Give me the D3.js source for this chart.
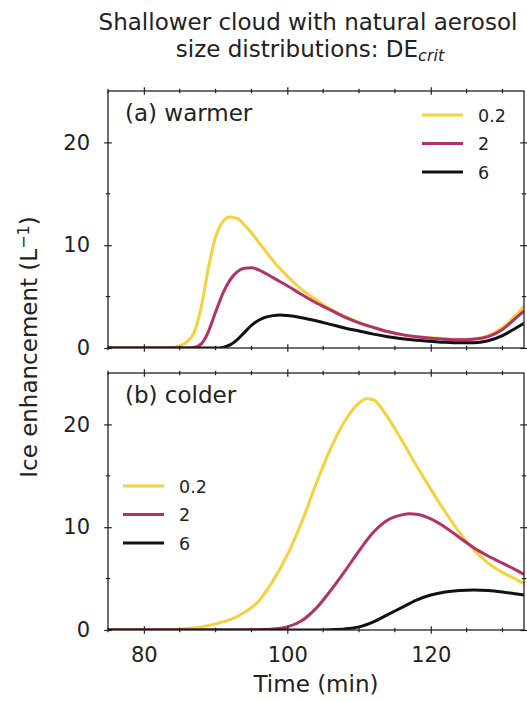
<!DOCTYPE html>
<html>
<head>
<meta charset="utf-8">
<script src="https://cdn.jsdelivr.net/npm/d3@7"></script>
<style>
  body { margin: 0; background: #fff; }
  svg text { font-family: "DejaVu Sans", sans-serif; fill: #222; }
  .axis path, .axis line { stroke: #222; }
</style>
</head>
<body>
<div class="chart"></div>
<script>
// DATA ---------------------------------------------------------------

const seriesNames = ['0.2', '2', '6'];
const seriesColors = ['#f5d23c', '#b3316a', '#111111'];

// (a) warmer, time (min) and ice enhancement (L-1)
const warmTime02 = [75, 83, 84, 85, 86, 87, 88, 89, 90, 91, 92, 93, 94, 95, 96, 97, 98, 99, 100, 102, 104, 106, 108, 110, 112, 114, 116, 118, 120, 122, 124, 126, 128, 130, 132, 133];
const warmVal02  = [0, 0, 0.05, 0.2, 0.6, 1.5, 4.0, 7.8, 10.8, 12.3, 12.75, 12.6, 12.0, 11.2, 10.3, 9.4, 8.5, 7.7, 7.0, 5.7, 4.7, 3.8, 3.1, 2.5, 2.0, 1.6, 1.3, 1.1, 1.0, 0.9, 0.85, 0.9, 1.2, 2.0, 3.3, 4.1];
const warmTime2  = [75, 86, 87, 88, 89, 90, 91, 92, 93, 94, 95, 96, 97, 98, 99, 100, 102, 104, 106, 108, 110, 112, 114, 116, 118, 120, 122, 124, 126, 128, 130, 132, 133];
const warmVal2   = [0, 0, 0.05, 0.4, 1.6, 3.5, 5.3, 6.6, 7.4, 7.75, 7.8, 7.6, 7.25, 6.85, 6.45, 6.05, 5.2, 4.4, 3.7, 3.0, 2.45, 2.0, 1.6, 1.3, 1.1, 0.95, 0.85, 0.8, 0.85, 1.1, 1.8, 3.0, 3.6];
const warmTime6  = [75, 90, 91, 92, 93, 94, 95, 96, 97, 98, 99, 100, 102, 104, 106, 108, 110, 112, 114, 116, 118, 120, 122, 124, 126, 128, 130, 132, 133];
const warmVal6   = [0, 0, 0.05, 0.3, 0.8, 1.5, 2.2, 2.7, 3.0, 3.15, 3.2, 3.15, 2.95, 2.65, 2.3, 1.95, 1.65, 1.35, 1.1, 0.9, 0.75, 0.65, 0.55, 0.5, 0.5, 0.7, 1.2, 2.0, 2.4];

// (b) colder
const coldTime02 = [75, 80, 82, 84, 86, 88, 90, 92, 94, 96, 98, 100, 102, 104, 106, 108, 110, 111, 112, 113, 114, 116, 118, 120, 122, 124, 126, 128, 130, 132, 133];
const coldVal02  = [0, 0, 0.02, 0.06, 0.15, 0.3, 0.6, 1.0, 1.7, 2.8, 4.8, 7.3, 10.5, 14.2, 17.6, 20.3, 22.1, 22.5, 22.4, 21.7, 20.7, 18.4, 16.0, 13.7, 11.5, 9.5, 7.8, 6.5, 5.6, 4.9, 4.5];
const coldTime2  = [75, 94, 96, 98, 100, 102, 104, 106, 108, 110, 112, 114, 116, 117, 118, 120, 122, 124, 126, 128, 130, 132, 133];
const coldVal2   = [0, 0, 0.03, 0.1, 0.3, 0.9, 2.1, 3.8, 5.7, 7.7, 9.5, 10.7, 11.2, 11.3, 11.25, 10.8, 10.0, 9.0, 8.0, 7.2, 6.5, 5.8, 5.4];
const coldTime6  = [75, 104, 106, 108, 110, 112, 114, 116, 118, 120, 122, 124, 126, 128, 130, 132, 133];
const coldVal6   = [0, 0, 0.03, 0.1, 0.3, 0.8, 1.5, 2.2, 2.9, 3.4, 3.7, 3.85, 3.9, 3.85, 3.7, 3.5, 3.4];

const xTicks = [80, 100, 120];
const yTicks = [0, 10, 20];

// CHART INIT ---------------------------------------------------------

const W = 527, H = 702;
const left = 108, right = 524;
const panelH = 257;
const panelTops = [91, 373];

const svg = d3.select('.chart')
    .append('svg')
    .attr('width', W)
    .attr('height', H);

const xScale = d3.scaleLinear().domain([75, 133]).range([0, right - left]);
const yScale = d3.scaleLinear().domain([0, 25]).range([panelH, 0]);

const zip = (t, v) => t.map((d, i) => ({t: d, v: v[i]}));

const panels = [
    {label: '(a) warmer', series: [zip(warmTime02, warmVal02), zip(warmTime2, warmVal2), zip(warmTime6, warmVal6)],
     legend: {x: 422 - left, y: 115 - panelTops[0]}, xLabels: false},
    {label: '(b) colder', series: [zip(coldTime02, coldVal02), zip(coldTime2, coldVal2), zip(coldTime6, coldVal6)],
     legend: {x: 123 - left, y: 486 - panelTops[1]}, xLabels: true}
];

const line = d3.line()
    .x(d => xScale(d.t))
    .y(d => yScale(d.v))
    .curve(d3.curveMonotoneX);

// make ticks cross the spine (inout)
function inout(sel, horizontal) {
    sel.selectAll('.tick line').each(function() {
        const isMinor = d3.select(this.parentNode).classed('minor');
        const h = isMinor ? 2.2 : 3.8;
        if (horizontal) d3.select(this).attr('y1', -h).attr('y2', h);
        else d3.select(this).attr('x1', -h).attr('x2', h);
    });
    sel.selectAll('.tick line').attr('stroke-width', 1.2);
}

function drawAxes(g, showX) {
    const minorX = d3.range(75, 134, 5).filter(d => d % 20 !== 0);
    const minorY = [5, 15];
    const defs = [
        {gen: d3.axisBottom(xScale), tr: [0, panelH], h: true, major: xTicks, minor: minorX, labels: showX},
        {gen: d3.axisTop(xScale), tr: [0, 0], h: true, major: xTicks, minor: minorX, labels: false},
        {gen: d3.axisLeft(yScale), tr: [0, 0], h: false, major: yTicks, minor: minorY, labels: true},
        {gen: d3.axisRight(yScale), tr: [right - left, 0], h: false, major: yTicks, minor: minorY, labels: false}
    ];
    defs.forEach(a => {
        const ax = g.append('g').attr('class', 'axis')
            .attr('transform', `translate(${a.tr[0]},${a.tr[1]})`);
        ax.call(a.gen.tickValues(a.major).tickSizeOuter(0).tickSizeInner(4)
            .tickPadding(a.h ? 13 : 14).tickFormat(a.labels ? d3.format('d') : ''));
        ax.select('.domain').remove();
        const mg = ax.append('g');
        a.minor.forEach(v => {
            const s = a.h ? xScale(v) : yScale(v);
            mg.append('g').attr('class', 'tick minor')
                .attr('transform', a.h ? `translate(${s},0)` : `translate(0,${s})`)
                .append('line').attr('stroke', '#222');
        });
        inout(ax, a.h);
        ax.selectAll('text').style('font-size', '21px').attr('fill', '#222');
    });
    g.append('rect')
        .attr('width', right - left)
        .attr('height', panelH)
        .attr('fill', 'none')
        .attr('stroke', '#222')
        .attr('stroke-width', 1.3);
}

// DRAW PANELS --------------------------------------------------------

panels.forEach((p, pi) => {
    const g = svg.append('g')
        .attr('transform', `translate(${left},${panelTops[pi]})`);

    g.append('clipPath').attr('id', 'clip' + pi)
        .append('rect').attr('width', right - left).attr('height', panelH);

    g.append('g').attr('clip-path', `url(#clip${pi})`)
        .selectAll('path')
        .data(p.series)
        .enter()
        .append('path')
        .attr('d', line)
        .attr('fill', 'none')
        .attr('stroke', (d, i) => seriesColors[i])
        .attr('stroke-width', 3);

    drawAxes(g, p.xLabels);

    g.append('text')
        .attr('x', 17)
        .attr('y', 30)
        .style('font-size', '23px')
        .text(p.label);

    const lg = g.append('g')
        .attr('transform', `translate(${p.legend.x},${p.legend.y})`);
    seriesNames.forEach((name, i) => {
        lg.append('line')
            .attr('x1', 0).attr('x2', 41)
            .attr('y1', i * 28.5).attr('y2', i * 28.5)
            .attr('stroke', seriesColors[i])
            .attr('stroke-width', 3);
        lg.append('text')
            .attr('x', 56)
            .attr('y', i * 28.5 + 6.5)
            .style('font-size', '17.5px')
            .text(name);
    });
});

// TITLES -------------------------------------------------------------

const cx = (left + right) / 2;
svg.append('text')
    .attr('x', cx - 8).attr('y', 30)
    .attr('text-anchor', 'middle')
    .style('font-size', '23px')
    .text('Shallower cloud with natural aerosol');

const t2 = svg.append('text')
    .attr('x', cx - 6).attr('y', 57)
    .attr('text-anchor', 'middle')
    .style('font-size', '23px');
t2.append('tspan').text('size distributions: DE');
t2.append('tspan')
    .attr('dy', 4)
    .style('font-size', '16px')
    .style('font-style', 'italic')
    .text('crit');

svg.append('text')
    .attr('x', cx).attr('y', 692)
    .attr('text-anchor', 'middle')
    .style('font-size', '23px')
    .text('Time (min)');

const yl = svg.append('text')
    .attr('transform', 'translate(37,347) rotate(-90)')
    .attr('text-anchor', 'middle')
    .style('font-size', '23px');
yl.append('tspan').text('Ice enhancement (L');
yl.append('tspan').attr('dy', -8).style('font-size', '16px').text('\u22121');
yl.append('tspan').attr('dy', 8).text(')');
</script>
</body>
</html>
